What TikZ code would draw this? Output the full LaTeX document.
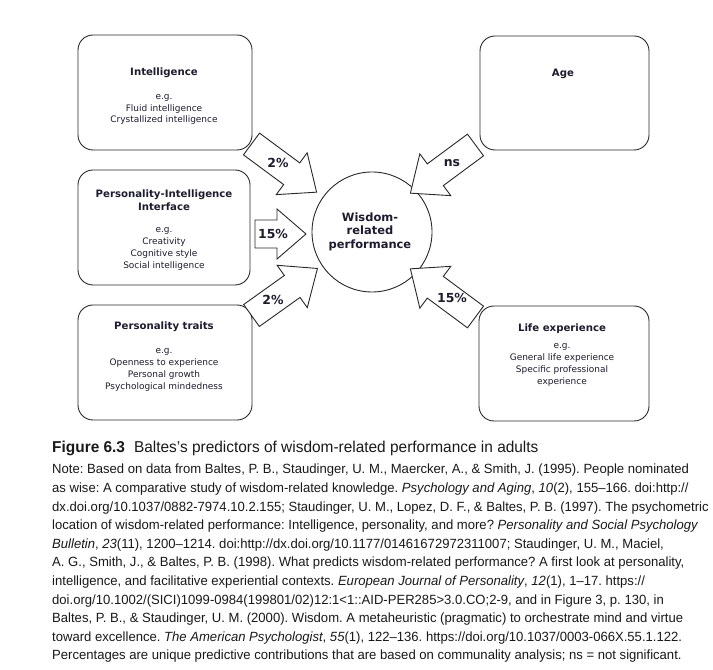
\documentclass[tikz,border=0pt]{standalone}
\usepackage{fontspec}
\newfontfamily\boxfont{DejaVu Sans}
\newfontfamily\capfont[FakeStretch=0.98]{Liberation Sans}
\definecolor{ink}{RGB}{28,28,46}
\definecolor{edge}{RGB}{40,40,40}
\frenchspacing
\tikzset{
  box/.style={draw=edge, line width=0.9bp, rounded corners=15bp, inner sep=0pt},
  ttl/.style={font=\boxfont\bfseries\fontsize{10.2}{12.5}\selectfont, text=ink, align=center, inner sep=0pt},
  body/.style={font=\boxfont\fontsize{9}{11.8}\selectfont, text=ink, align=center, inner sep=0pt},
  pct/.style={font=\boxfont\bfseries\fontsize{12.5}{13}\selectfont, text=ink, inner sep=0pt},
  blk/.style={draw=edge, line width=0.9bp, fill=white, line join=miter},
  captext/.style={font=\capfont\fontsize{13.4}{15}\selectfont\frenchspacing, anchor=base west, inner sep=0pt, text=black!90},
}
\newcommand{\blockarrow}[4]{% tail, angle, length, head length
  \draw[blk, shift={#1}, rotate=#2] (0,-13.5) -- (#3-#4,-13.5) -- (#3-#4,-26) -- (#3,0) -- (#3-#4,26) -- (#3-#4,13.5) -- (0,13.5) -- cycle;}
\begin{document}
\begin{tikzpicture}[x=1bp,y=1bp]
\useasboundingbox (0,0) rectangle (713,670);
% boxes
\node[box, minimum width=174bp, minimum height=115bp] (intel) at (165,577.5) {};
\node[box, minimum width=172bp, minimum height=115bp] (pii) at (164,442.5) {};
\node[box, minimum width=174bp, minimum height=115bp] (pt) at (165,307.5) {};
\node[box, minimum width=169bp, minimum height=114bp] (age) at (564.5,577) {};
\node[box, minimum width=170bp, minimum height=115bp] (life) at (564,306.5) {};
\node[circle, draw=edge, line width=0.9bp, minimum size=120bp, inner sep=0pt] (wis) at (372,438) {};
% box texts
\node[ttl] (intelT) at (164,597) {Intelligence};
\node[body] (intelB) at (164,560.5) {e.g.\\Fluid intelligence\\Crystallized intelligence};
\node[ttl] (piiT) at (164,470) {Personality-Intelligence\\Interface};
\node[body] (piiB) at (164,421) {e.g.\\Creativity\\Cognitive style\\Social intelligence};
\node[ttl] (ptT) at (164,343) {Personality traits};
\node[body] (ptB) at (164,300) {e.g.\\Openness to experience\\Personal growth\\Psychological mindedness};
\node[ttl] (ageT) at (563,596) {Age};
\node[ttl] (lifeT) at (562,341) {Life experience};
\node[body] (lifeB) at (562,305) {e.g.\\General life experience\\Specific professional\\experience};
\node[font=\boxfont\bfseries\fontsize{11.5}{13.5}\selectfont, text=ink, align=center, inner sep=0pt] (wisT) at (370,438.5) {Wisdom-\\related\\performance};
% block arrows
\coordinate (t1) at (251.5,526);
\coordinate (t2) at (255,436);
\coordinate (t3) at (251.5,354.5);
\coordinate (t4) at (475.5,525);
\coordinate (t5) at (475.5,353);
\blockarrow{(t1)}{-36.5}{81}{31}
\blockarrow{(t3)}{35.5}{81}{31}
\blockarrow{(t4)}{216.5}{81}{31}
\blockarrow{(t5)}{143.5}{81}{31}
\draw[blk] (t2) ++(0,-14) -- ++(22,0) -- ++(0,-11) -- ++(29,25) -- ++(-29,25) -- ++(0,-11) -- ++(-22,0) -- cycle;
\node[pct] (p1) at (278,507) {2\%};
\node[pct] (p2) at (273,436) {15\%};
\node[pct] (p3) at (273,370) {2\%};
\node[pct] (p4) at (452,507) {ns};
\node[pct] (p5) at (452,372) {15\%};
% caption
\node[captext, font=\capfont\fontsize{15.8}{16}\selectfont] (fig) at (52,217) {\bfseries Figure 6.3\hspace{9bp}\mdseries Baltes’s predictors of wisdom-related performance in adults};
\node[captext] (n1) at (52,196) {Note: Based on data from Baltes, P. B., Staudinger, U. M., Maercker, A., \& Smith, J. (1995). People nominated};
\node[captext] (n2) at (52,177.4) {as wise: A comparative study of wisdom-related knowledge. \textit{Psychology and Aging}, \textit{10}(2), 155–166. doi:http://};
\node[captext] (n3) at (52,158.8) {dx.doi.org/10.1037/0882-7974.10.2.155; Staudinger, U. M., Lopez, D. F., \& Baltes, P. B. (1997). The psychometric};
\node[captext] (n4) at (52,140.2) {location of wisdom-related performance: Intelligence, personality, and more? \textit{Personality and Social Psychology}};
\node[captext] (n5) at (52,121.6) {\textit{Bulletin}, \textit{23}(11), 1200–1214. doi:http://dx.doi.org/10.1177/01461672972311007; Staudinger, U. M., Maciel,};
\node[captext] (n6) at (52,103) {A. G., Smith, J., \& Baltes, P. B. (1998). What predicts wisdom-related performance? A first look at personality,};
\node[captext] (n7) at (52,84.4) {intelligence, and facilitative experiential contexts. \textit{European Journal of Personality}, \textit{12}(1), 1–17. https://};
\node[captext] (n8) at (52,65.8) {doi.org/10.1002/(SICI)1099-0984(199801/02)12:1<1::AID-PER285>3.0.CO;2-9, and in Figure 3, p. 130, in};
\node[captext] (n9) at (52,47.2) {Baltes, P. B., \& Staudinger, U. M. (2000). Wisdom. A metaheuristic (pragmatic) to orchestrate mind and virtue};
\node[captext] (n10) at (52,28.6) {toward excellence. \textit{The American Psychologist}, \textit{55}(1), 122–136. https://doi.org/10.1037/0003-066X.55.1.122.};
\node[captext] (n11) at (52,10) {Percentages are unique predictive contributions that are based on communality analysis; ns = not significant.};
\end{tikzpicture}
\end{document}
